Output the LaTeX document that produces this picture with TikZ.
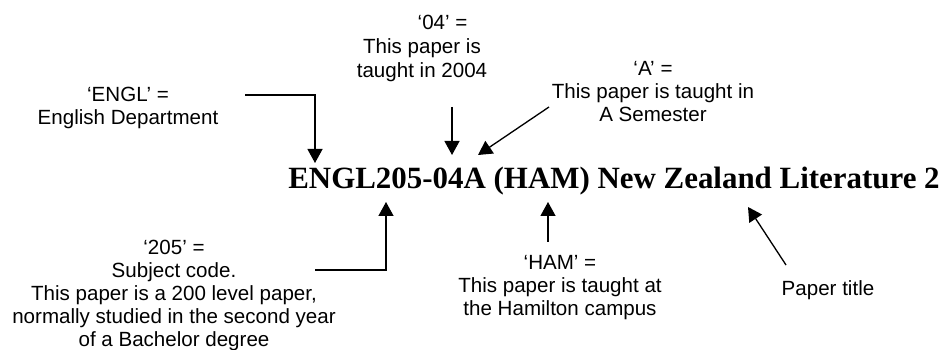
\documentclass[tikz,border=0pt]{standalone}
\usepackage{fontspec}
\setmainfont{Liberation Serif}
\newfontfamily\labelfont{Liberation Sans}
\usepackage{tikz}
\usetikzlibrary{arrows.meta}

\begin{document}
\begin{tikzpicture}[
    x=0.02cm, y=-0.02cm,
    note/.style={
        anchor=north,
        inner sep=0pt,
        align=center,
        font=\labelfont\fontsize{11.7}{13}\selectfont
    },
    title/.style={
        anchor=base west,
        inner sep=0pt,
        font=\bfseries\fontsize{17.6}{20}\selectfont
    },
    arrow/.style={line width=0.75pt, -{Triangle[length=0.28cm, width=0.3cm]}}
]
\useasboundingbox (0,0) rectangle (945,350);

\node[title] (code) at (288,189) {ENGL205-04A (HAM) New Zealand Literature 2};

\node[note] (eng) at (128,87) {‘ENGL’ =\\English Department};
\node[note, font=\labelfont\fontsize{11.7}{13.6}\selectfont] (yr) at (422,15) {\hspace*{2em}‘04’ =\\This paper is\\taught in 2004};
\node[note] (sem) at (653,61) {‘A’ =\\This paper is taught in\\A Semester};
\node[note] (subj) at (174,240) {‘205’ =\\Subject code.\\This paper is a 200 level paper,\\normally studied in the second year\\of a Bachelor degree};
\node[note] (camp) at (560,255) {‘HAM’ =\\This paper is taught at\\the Hamilton campus};
\node[note] (ptitle) at (828,280) {Paper title};

% ends of the connectors
\coordinate (engOut) at (245,95);
\coordinate (engIn) at (315,163);
\coordinate (yrOut) at (452,107);
\coordinate (yrIn) at (452,155);
\coordinate (semOut) at (549,107);
\coordinate (semIn) at (478,155);
\coordinate (subjOut) at (315,270);
\coordinate (subjIn) at (386,202);
\coordinate (campOut) at (548,242);
\coordinate (campIn) at (548,202);
\coordinate (ptitleOut) at (786,265);
\coordinate (ptitleIn) at (748,207);

\draw[arrow] (engOut) -| (engIn);
\draw[arrow] (yrOut) -- (yrIn);
\draw[arrow] (semOut) -- (semIn);
\draw[arrow] (subjOut) -| (subjIn);
\draw[arrow] (campOut) -- (campIn);
\draw[arrow] (ptitleOut) -- (ptitleIn);

\end{tikzpicture}
\end{document}
